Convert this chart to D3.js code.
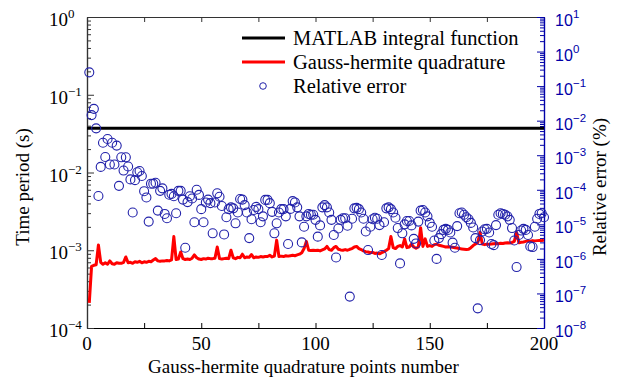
<!DOCTYPE html>
<html>
<head>
<meta charset="utf-8">
<script src="https://cdn.jsdelivr.net/npm/d3@7"></script>
<style>
  body { margin: 0; background: #fff; }
  svg { display: block; }
  text { font-family: "Liberation Serif", "Times New Roman", serif; }
</style>
</head>
<body>
<div id="chart"></div>
<script>
// Gauss-hermite quadrature time (s), n = 1..200
const gaussTime = [
  2.1e-4, 6.2e-4, 6.4e-4, 6.5e-4, 1.17e-3, 7.0e-4, 6.6e-4, 6.9e-4, 6.6e-4, 7.3e-4,
  6.7e-4, 6.6e-4, 6.9e-4, 6.8e-4, 6.8e-4, 7.0e-4, 8.2e-4, 6.9e-4, 7.0e-4, 6.8e-4,
  7.1e-4, 7.0e-4, 7.2e-4, 6.9e-4, 7.1e-4, 7.0e-4, 7.2e-4, 7.1e-4, 7.5e-4, 7.8e-4,
  7.3e-4, 7.2e-4, 7.3e-4, 7.3e-4, 7.4e-4, 7.3e-4, 7.5e-4, 1.5e-3, 7.6e-4, 7.7e-4,
  9.5e-4, 7.8e-4, 7.6e-4, 7.7e-4, 7.6e-4, 7.9e-4, 8.7e-4, 8.0e-4, 7.7e-4, 7.6e-4,
  7.8e-4, 7.7e-4, 7.9e-4, 7.8e-4, 7.8e-4, 7.9e-4, 1.1e-3, 7.8e-4, 7.7e-4, 7.8e-4,
  7.9e-4, 7.8e-4, 1.0e-3, 8.0e-4, 7.8e-4, 8.1e-4, 8.0e-4, 8.9e-4, 8.0e-4, 8.2e-4,
  8.1e-4, 8.8e-4, 8.0e-4, 8.2e-4, 8.1e-4, 8.3e-4, 8.2e-4, 8.3e-4, 8.3e-4, 8.6e-4,
  8.2e-4, 8.4e-4, 1.35e-3, 8.3e-4, 8.4e-4, 8.3e-4, 8.5e-4, 8.4e-4, 8.5e-4, 8.6e-4,
  8.5e-4, 8.7e-4, 8.9e-4, 9.3e-4, 1.05e-3, 1.3e-3, 1.0e-3, 9.9e-4, 1.0e-3, 9.9e-4,
  1.0e-3, 9.8e-4, 1.01e-3, 1.04e-3, 1.12e-3, 1.02e-3, 1.0e-3, 1.08e-3, 1.12e-3, 1.03e-3,
  1.01e-3, 1.0e-3, 1.02e-3, 1.0e-3, 1.03e-3, 1.05e-3, 1.1e-3, 1.12e-3, 1.05e-3, 1.02e-3,
  9.8e-4, 9.6e-4, 9.5e-4, 9.3e-4, 9.4e-4, 9.1e-4, 9.2e-4, 9.0e-4, 9.3e-4, 9.6e-4,
  1.0e-3, 1.05e-3, 1.5e-3, 1.08e-3, 1.05e-3, 1.12e-3, 1.15e-3, 1.1e-3, 1.4e-3, 1.08e-3,
  1.1e-3, 1.2e-3, 1.1e-3, 1.06e-3, 1.1e-3, 1.95e-3, 1.12e-3, 1.4e-3, 1.12e-3, 1.15e-3,
  1.12e-3, 1.18e-3, 1.2e-3, 1.16e-3, 1.14e-3, 1.12e-3, 1.1e-3, 1.11e-3, 1.1e-3, 1.09e-3,
  1.08e-3, 1.07e-3, 1.05e-3, 1.04e-3, 1.03e-3, 1.02e-3, 1.03e-3, 1.08e-3, 1.15e-3, 1.2e-3,
  1.25e-3, 1.7e-3, 1.2e-3, 1.18e-3, 1.2e-3, 1.19e-3, 1.2e-3, 1.21e-3, 1.22e-3, 1.21e-3,
  1.23e-3, 1.22e-3, 1.24e-3, 1.25e-3, 1.24e-3, 1.26e-3, 1.3e-3, 1.7e-3, 1.25e-3, 1.27e-3,
  1.28e-3, 1.3e-3, 1.32e-3, 1.31e-3, 1.33e-3, 1.32e-3, 1.33e-3, 1.34e-3, 1.33e-3, 1.35e-3
];

// relative error (%), n = 1..200
const relError = [
  2.5e-1, 1.45e-2, 2.2e-2, 6.0e-3, 6.6e-5, 4.6e-4, 2.3e-3, 8.9e-4, 2.95e-3, 5.4e-4,
  2.3e-3, 5.4e-4, 1.9e-3, 1.3e-4, 8.7e-4, 3.6e-4, 8.7e-4, 4.7e-4, 2.0e-4, 2.2e-5,
  1.9e-4, 3.2e-4, 3.5e-4, 2.5e-4, 9.1e-5, 6.0e-5, 1.2e-5, 1.5e-4, 1.5e-4, 1.6e-4,
  2.5e-5, 9.3e-5, 1.1e-4, 2.0e-5, 1.5e-5, 7.2e-5, 7.6e-5, 6.5e-5, 2.1e-5, 9.3e-5,
  9.3e-5, 5.2e-5, 2.1e-6, 4.4e-5, 6.5e-5, 5.6e-5, 1.15e-5, 1.0e-4, 7.1e-5, 2.75e-5,
  1.15e-5, 4.3e-5, 5.2e-5, 4.1e-5, 5.5e-6, 4.3e-5, 7.9e-5, 6.3e-5, 3.4e-5, 5.1e-6,
  1.6e-5, 2.75e-5, 3.1e-5, 2.9e-5, 1.07e-5, 2.2e-5, 5.4e-5, 5.2e-5, 3.6e-5, 2.2e-5,
  4.0e-6, 1.4e-5, 2.6e-5, 3.2e-5, 2.75e-5, 1.15e-5, 1.7e-5, 5.1e-5, 5.1e-5, 4.1e-5,
  2.3e-5, 5.5e-6, 1.07e-5, 2.2e-5, 2.75e-5, 2.75e-5, 1.7e-5, 2.7e-6, 2.8e-5, 4.7e-5,
  4.3e-5, 3.1e-5, 1.7e-5, 3.0e-6, 8.5e-6, 1.7e-5, 2.0e-5, 1.9e-5, 1.9e-5, 1.35e-5,
  4.4e-6, 9.3e-6, 3.1e-5, 3.6e-5, 3.1e-5, 2.2e-5, 1.35e-5, 4.9e-6, 1.1e-6, 7.6e-6,
  1.35e-5, 1.5e-5, 1.5e-5, 9.1e-6, 8.1e-8, 1.45e-5, 2.9e-5, 3.0e-5, 2.75e-5, 2.2e-5,
  1.45e-5, 6.2e-6, 1.8e-6, 8.5e-6, 1.4e-5, 1.55e-5, 1.45e-5, 9.5e-6, 1.3e-6, 1.15e-5,
  2.9e-5, 3.1e-5, 2.75e-5, 2.2e-5, 1.55e-5, 7.8e-6, 7.4e-7, 5.5e-6, 1.0e-5, 1.25e-5,
  1.25e-5, 9.3e-6, 3.8e-6, 2.8e-6, 1.2e-5, 2.5e-5, 2.6e-5, 2.2e-5, 1.7e-5, 1.1e-5,
  8.5e-6, 3.4e-6, 1.0e-6, 4.0e-6, 5.2e-6, 6.9e-6, 7.4e-6, 6.9e-6, 5.8e-6, 2.95e-6,
  2.1e-6, 8.9e-6, 2.1e-5, 2.2e-5, 1.9e-5, 1.6e-5, 1.4e-5, 1.1e-5, 8.1e-6, 4.0e-6,
  3.7e-8, 3.5e-6, 6.2e-6, 7.2e-6, 7.4e-6, 5.8e-6, 2.7e-6, 2.5e-6, 9.5e-6, 1.9e-5,
  2.1e-5, 2.0e-5, 1.9e-5, 1.7e-5, 1.35e-5, 7.8e-6, 3.4e-6, 5.8e-7, 4.9e-6, 6.6e-6,
  7.4e-6, 6.9e-6, 4.9e-6, 2.3e-6, 2.2e-6, 8.5e-6, 1.45e-5, 2.0e-5, 2.1e-5, 1.6e-5
];

// MATLAB integral function time (s), constant across n
const matlabN = [0, 200];
const matlabTime = [0.037, 0.037];

const xTickValues = [0, 25, 50, 75, 100, 125, 150, 175, 200];
const xTickLabels = ["0", "", "50", "", "100", "", "150", "", "200"];
const leftExponents = [0, -1, -2, -3, -4];
const rightExponents = [1, 0, -1, -2, -3, -4, -5, -6, -7, -8];
const legendLabels = ["MATLAB integral function", "Gauss-hermite quadrature", "Relative error"];

const width = 632, height = 378;
const margin = {left: 87, right: 88, top: 17, bottom: 50};
const blue = "#0000a8";
const axisGray = "#333";
const sans = "'Liberation Sans', Arial, sans-serif";

const svg = d3.select("#chart").append("svg")
  .attr("width", width)
  .attr("height", height);

const x = d3.scaleLinear().domain([0, 200]).range([margin.left, width - margin.right]);
const yL = d3.scaleLog().domain([1e-4, 1]).range([height - margin.bottom, margin.top]);
const yR = d3.scaleLog().domain([1e-8, 10]).range([height - margin.bottom, margin.top]);

const x0 = x.range()[0], x1 = x.range()[1];
const y0 = yL.range()[0], y1 = yL.range()[1];

// minor log ticks 2..9 in each decade
function minorTicks(lo, hi) {
  const out = [];
  for (let e = lo; e < hi; e++) {
    for (let m = 2; m <= 9; m++) out.push(m * Math.pow(10, e));
  }
  return out;
}

function styleAxis(g, color) {
  g.select(".domain").attr("stroke", color).attr("stroke-width", 1.2);
  g.selectAll(".tick line").attr("stroke", color);
  g.selectAll(".tick text").remove();
}

// bottom + top x axes (ticks inward)
svg.append("g").attr("transform", `translate(0,${y0})`)
  .call(d3.axisBottom(x).tickValues(xTickValues).tickSize(-5).tickSizeOuter(0))
  .call(g => styleAxis(g, "#000"));
svg.append("g").attr("transform", `translate(0,${y1})`)
  .call(d3.axisTop(x).tickValues(xTickValues).tickSize(-5).tickSizeOuter(0))
  .call(g => styleAxis(g, axisGray));

// left axis
svg.append("g").attr("transform", `translate(${x0},0)`)
  .call(d3.axisLeft(yL).tickValues(leftExponents.map(e => Math.pow(10, e))).tickSize(-7).tickSizeOuter(0))
  .call(g => styleAxis(g, axisGray));
svg.append("g").attr("transform", `translate(${x0},0)`)
  .call(d3.axisLeft(yL).tickValues(minorTicks(-4, 0)).tickSize(-4).tickSizeOuter(0))
  .call(g => styleAxis(g, axisGray));

// right axis
svg.append("g").attr("transform", `translate(${x1},0)`)
  .call(d3.axisRight(yR).tickValues(rightExponents.map(e => Math.pow(10, e))).tickSize(-7).tickSizeOuter(0))
  .call(g => styleAxis(g, blue));
svg.append("g").attr("transform", `translate(${x1},0)`)
  .call(d3.axisRight(yR).tickValues(minorTicks(-8, 1)).tickSize(-4).tickSizeOuter(0))
  .call(g => styleAxis(g, blue));

// x tick labels
svg.append("g").selectAll("text")
  .data(xTickValues)
  .join("text")
  .attr("x", d => x(d))
  .attr("y", y0 + 22)
  .attr("text-anchor", "middle")
  .attr("font-size", 19)
  .text((d, i) => xTickLabels[i]);

// left tick labels 10^e
const lt = svg.append("g").selectAll("g")
  .data(leftExponents)
  .join("g");
lt.append("text")
  .attr("x", x0 - 19)
  .attr("y", e => yL(Math.pow(10, e)) + 9)
  .attr("text-anchor", "end")
  .attr("font-size", 19)
  .text("10");
lt.append("text")
  .attr("x", x0 - 19)
  .attr("y", e => yL(Math.pow(10, e)) + 1)
  .attr("font-size", 13)
  .text(e => e === 0 ? "0" : "\u2212" + Math.abs(e));

// right tick labels
const rt = svg.append("g").selectAll("g")
  .data(rightExponents)
  .join("g")
  .attr("fill", blue);
rt.append("text")
  .attr("x", x1 + 11)
  .attr("y", e => yR(Math.pow(10, e)) + 9)
  .attr("font-size", 16)
  .style("font-family", sans)
  .text("10");
rt.append("text")
  .attr("x", x1 + 29)
  .attr("y", e => yR(Math.pow(10, e)) + 1)
  .attr("font-size", 11.5)
  .style("font-family", sans)
  .text(e => e >= 0 ? String(e) : "\u2212" + Math.abs(e));

// axis titles
svg.append("text")
  .attr("x", (x0 + x1) / 2 - 12)
  .attr("y", height - 5)
  .attr("text-anchor", "middle")
  .attr("font-size", 19)
  .text("Gauss-hermite quadrature points number");
svg.append("text")
  .attr("transform", `translate(29,187) rotate(-90)`)
  .attr("text-anchor", "middle")
  .attr("font-size", 19)
  .text("Time period (s)");
svg.append("text")
  .attr("transform", `translate(606,187) rotate(-90)`)
  .attr("text-anchor", "middle")
  .attr("font-size", 19)
  .text("Relative error (%)");

// MATLAB line
const line = d3.line().x(d => x(d[0])).y(d => yL(d[1]));
svg.append("path")
  .datum(matlabN.map((n, i) => [n, matlabTime[i]]))
  .attr("d", line)
  .attr("fill", "none")
  .attr("stroke", "#000")
  .attr("stroke-width", 3);

// Gauss-hermite line
svg.append("path")
  .datum(gaussTime.map((t, i) => [i + 1, t]))
  .attr("d", line)
  .attr("fill", "none")
  .attr("stroke", "#ff0000")
  .attr("stroke-width", 3)
  .attr("stroke-linejoin", "round");

// relative error circles
svg.append("g").selectAll("circle")
  .data(relError.map((v, i) => [i + 1, v]))
  .join("circle")
  .attr("cx", d => x(d[0]))
  .attr("cy", d => yR(d[1]))
  .attr("r", 4.5)
  .attr("fill", "none")
  .attr("stroke", "#2222aa")
  .attr("stroke-width", 1.1);

// legend
const lg = svg.append("g");
const legY = [38, 62, 86];
lg.append("line").attr("x1", 242).attr("x2", 285).attr("y1", legY[0]).attr("y2", legY[0])
  .attr("stroke", "#000").attr("stroke-width", 3);
lg.append("line").attr("x1", 242).attr("x2", 285).attr("y1", legY[1]).attr("y2", legY[1])
  .attr("stroke", "#ff0000").attr("stroke-width", 3);
lg.append("circle").attr("cx", 263).attr("cy", legY[2]).attr("r", 3.3)
  .attr("fill", "none").attr("stroke", "#2222aa");
lg.selectAll("text")
  .data(legendLabels)
  .join("text")
  .attr("x", 293)
  .attr("y", (d, i) => legY[i] + 7)
  .attr("font-size", 20.5)
  .text(d => d);
</script>
</body>
</html>
